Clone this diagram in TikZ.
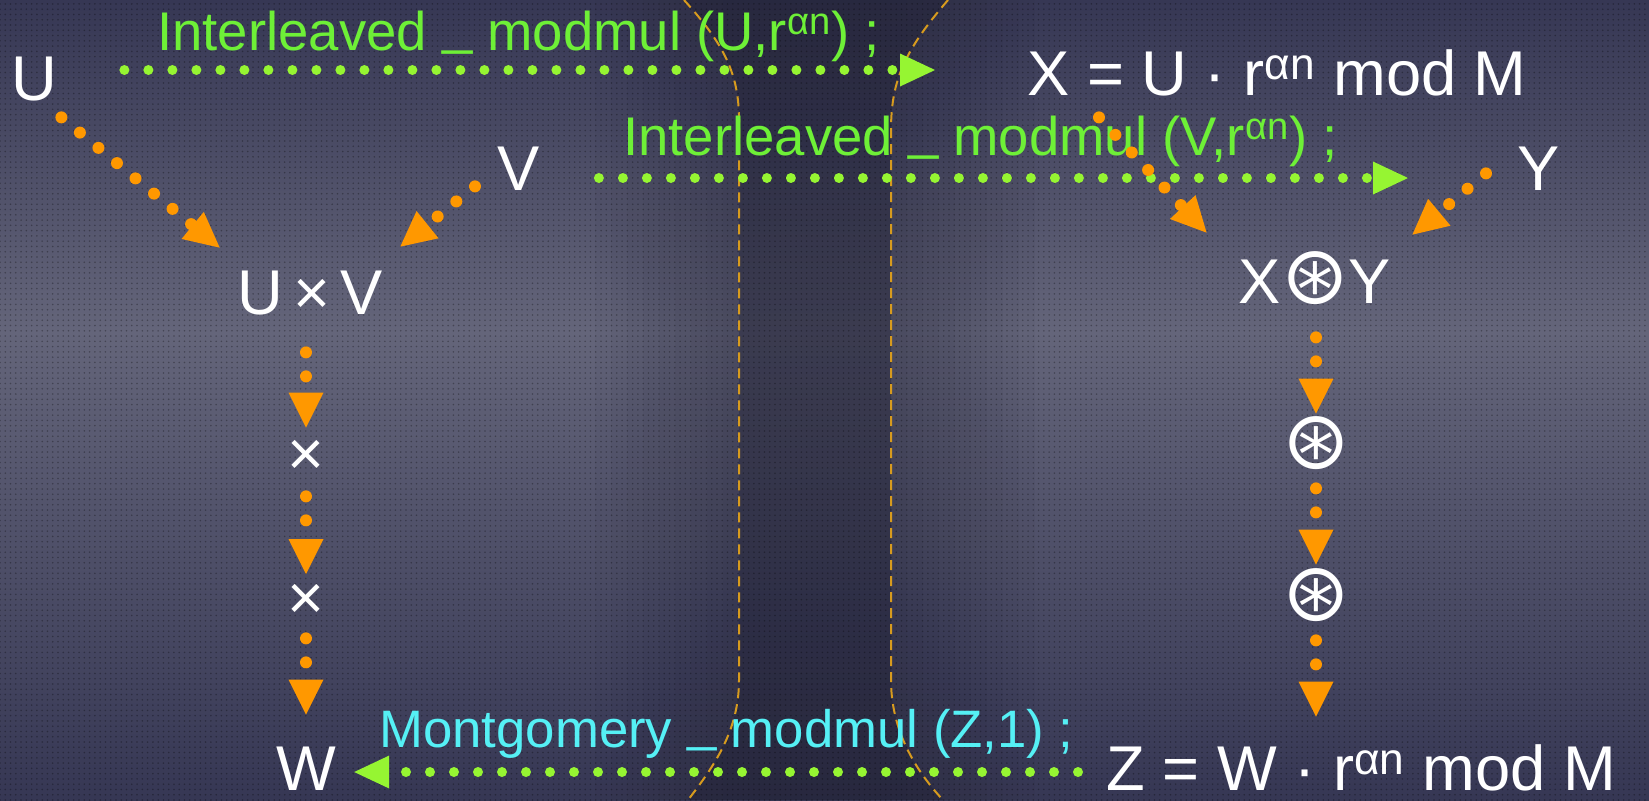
\documentclass[tikz,border=0pt]{standalone}
\usepackage{fontspec}
\setmainfont{Liberation Sans}
\newfontfamily\symfont{DejaVu Sans}
\usepackage{xcolor}
\usepackage{tikz}
\usetikzlibrary{arrows.meta,patterns}

\definecolor{bgdark}{RGB}{54,55,84}
\definecolor{bglight}{RGB}{100,101,122}
\definecolor{banddark}{RGB}{30,30,50}
\definecolor{bandline}{RGB}{215,155,30}
\definecolor{gdot}{RGB}{150,245,50}
\definecolor{glabcol}{RGB}{110,240,55}
\definecolor{clabcol}{RGB}{85,240,245}
\definecolor{odot}{RGB}{255,152,0}
\newcommand{\osym}{{\symfont\fontsize{46}{50}\selectfont ⊛}}

\begin{document}
\begin{tikzpicture}[x=0.2mm,y=-0.2mm,
wlab/.style={text=white,inner sep=0pt,text height=9mm,text depth=0pt,font=\fontsize{36}{40}\selectfont},
glab/.style={text=glabcol,inner sep=0pt,font=\fontsize{31}{36}\selectfont},
clab/.style={text=clabcol,inner sep=0pt,font=\fontsize{30}{34}\selectfont},
garrow/.style={draw=gdot,line width=2mm,line cap=round,dash pattern=on 0pt off 4.8mm,-{Triangle[length=7mm,width=6.6mm,line width=0pt]}},
oarrow/.style={draw=odot,line width=2.4mm,line cap=round,dash pattern=on 0pt off 4.8mm,-{Triangle[length=7mm,width=7mm,line width=0pt]}},
bandedge/.style={draw=bandline,line width=0.4mm,dash pattern=on 2mm off 1.2mm}]
\useasboundingbox (0,0) rectangle (1649,800);
\shade[top color=bgdark,bottom color=bglight] (0,0) rectangle (1649,330);
\shade[top color=bglight,bottom color=bgdark] (0,330) rectangle (1649,800);
\foreach \w in {1,...,9}
  \fill[banddark,fill opacity=0.04] (739-\w*16,0) rectangle (891+\w*16,800);
\fill[banddark,fill opacity=0.35] (684,0) .. controls (725,45) and (739,75) .. (739,120) -- (739,680) .. controls (739,730) and (715,765) .. (688,800)
  -- (943,800) .. controls (915,770) and (891,730) .. (891,680) -- (891,130) .. controls (891,80) and (905,50) .. (948,0) -- cycle;
\fill[pattern=dots,pattern color=black,fill opacity=0.3] (0,0) rectangle (1649,800);
\draw[bandedge] (684,0) .. controls (725,45) and (739,75) .. (739,120) -- (739,680) .. controls (739,730) and (715,765) .. (688,800);
\draw[bandedge] (948,0) .. controls (905,50) and (891,80) .. (891,130) -- (891,680) .. controls (891,730) and (915,770) .. (943,800);

\node[wlab,anchor=base west] (U) at (11,100) {U};
\node[wlab,anchor=base west] (V) at (497,190) {V};
\node[wlab,anchor=base] (UV) at (310,314) {U\,×\,V};
\node[wlab] (t1) at (306,453) {×};
\node[wlab] (t2) at (306,597) {×};
\node[wlab,anchor=base] (W) at (306,790) {W};
\node[wlab,anchor=base west] (X) at (1027,95) {X = U · r\textsuperscript{αn} mod M};
\node[wlab,anchor=base west] (Y) at (1517,190) {Y};
\node[wlab,anchor=base] (XY) at (1315,303) {X\osym Y};
\node[wlab] (c1) at (1316,446) {\osym};
\node[wlab] (c2) at (1316,598) {\osym};
\node[wlab,anchor=base west] (Z) at (1106,790) {Z = W · r\textsuperscript{αn} mod M};

\node[glab,anchor=base west] (lab1) at (157,50) {Interleaved \raisebox{0.12em}{\_} modmul (U,r\textsuperscript{αn}) ;};
\node[glab,anchor=base west] (lab2) at (623,155) {Interleaved \raisebox{0.12em}{\_} modmul (V,r\textsuperscript{αn}) ;};
\node[clab,anchor=base west] (lab3) at (379,747) {Montgomery \raisebox{0.12em}{\_} modmul (Z,1) ;};

\draw[garrow] ([shift={(67,-7.5)}]U.east) -- ([shift={(-92,-2.5)}]X.west);
\draw[garrow] ([shift={(59,10.5)}]V.east) -- ([shift={(-109,10.5)}]Y.west);
\draw[garrow] ([shift={(-28,4.5)}]Z.west) -- ([shift={(18,4.5)}]W.east);

\draw[oarrow] ([shift={(4,17)}]U.south east) -- ([shift={(-17,-21)}]UV.north west);
\draw[oarrow] ([shift={(-22,-4)}]V.south west) -- ([shift={(17,-22)}]UV.north east);
\draw[oarrow] ([shift={(72,22)}]X.south west) -- ([shift={(-32,-25)}]XY.north west);
\draw[oarrow] ([shift={(-31,-17)}]Y.south west) -- ([shift={(21,-23)}]XY.north east);

\draw[oarrow,shorten <=7.6mm,shorten >=0.5mm] (t1.north |- UV.south) -- (t1.north);
\draw[oarrow,shorten <=4.1mm] (t1.south) -- (t2.north);
\draw[oarrow,shorten <=3.7mm,shorten >=6mm] (t2.south) -- (W.north);
\draw[oarrow,shorten <=6.8mm,shorten >=1.9mm] (c1.north |- XY.south) -- (c1.north);
\draw[oarrow,shorten <=3.9mm,shorten >=2.1mm] (c1.south) -- (c2.north);
\draw[oarrow,shorten <=3.9mm,shorten >=5.6mm] (c2.south) -- (c2.south |- Z.north);
\end{tikzpicture}
\end{document}
